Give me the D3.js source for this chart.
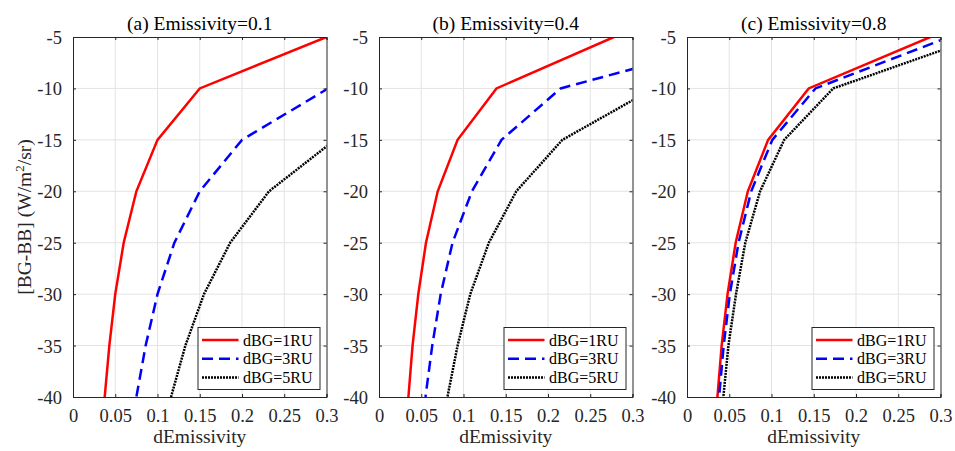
<!DOCTYPE html>
<html><head><meta charset="utf-8">
<script src="https://cdn.jsdelivr.net/npm/d3@7"></script>
<style>
body{margin:0;background:#fff;}
svg{display:block;}
svg text{font-family:"Liberation Serif","Times New Roman",Times,Tinos,"DejaVu Serif",serif !important;}
</style></head>
<body>
<svg id="chart" width="955" height="451"></svg>
<script>
// ---- data ----
const panelTitles = ["(a) Emissivity=0.1", "(b) Emissivity=0.4", "(c) Emissivity=0.8"];
const seriesNames = ["dBG=1RU", "dBG=3RU", "dBG=5RU"];
const yLevels = [-5, -10, -15, -20, -25, -30, -35, -40];
// x (dEmissivity) at each y level, per panel
const a_1RU = [0.30, 0.150, 0.100, 0.075, 0.060, 0.050, 0.043, 0.0375];
const a_3RU = [0.60, 0.302, 0.200, 0.150, 0.120, 0.100, 0.086, 0.075];
const a_5RU = [0.93, 0.465, 0.310, 0.232, 0.186, 0.155, 0.133, 0.116];
const b_1RU = [0.278, 0.139, 0.093, 0.0695, 0.0556, 0.0465, 0.0397, 0.0348];
const b_3RU = [0.44, 0.215, 0.145, 0.110, 0.087, 0.073, 0.063, 0.055];
const b_5RU = [0.65, 0.325, 0.217, 0.1625, 0.130, 0.108, 0.093, 0.081];
const c_1RU = [0.288, 0.144, 0.096, 0.072, 0.0576, 0.048, 0.041, 0.036];
const c_3RU = [0.31, 0.152, 0.101, 0.076, 0.061, 0.0507, 0.0434, 0.038];
const c_5RU = [0.346, 0.173, 0.115, 0.0865, 0.069, 0.058, 0.049, 0.043];
const xTicks = [0, 0.05, 0.1, 0.15, 0.2, 0.25, 0.3];
const xTickLabels = ["0", "0.05", "0.1", "0.15", "0.2", "0.25", "0.3"];
const yTicks = [-5, -10, -15, -20, -25, -30, -35, -40];
const yTickLabels = ["-5", "-10", "-15", "-20", "-25", "-30", "-35", "-40"];
const xLabel = "dEmissivity";

const panels = [[a_1RU, a_3RU, a_5RU], [b_1RU, b_3RU, b_5RU], [c_1RU, c_3RU, c_5RU]];
const colors = ["#ff0000", "#0000ff", "#000000"];
const dashes = [null, "11,6", "2,1"];

const svg = d3.select("#chart");
const lefts = [73, 379, 687];
const pw = 253.5, plotTop = 37, plotBottom = 397;
const axisColor = "#262626";

panels.forEach((series, pi) => {
  const x = d3.scaleLinear().domain([0, 0.3]).range([lefts[pi], lefts[pi] + pw]);
  const y = d3.scaleLinear().domain([-40, -5]).range([plotBottom, plotTop]);
  const g = svg.append("g");
  const clipId = "clip" + pi;
  svg.append("clipPath").attr("id", clipId).append("rect")
    .attr("x", x(0)).attr("y", y(-5)).attr("width", x(0.3) - x(0)).attr("height", y(-40) - y(-5));

  // grid
  g.append("g").selectAll("line").data(xTicks.slice(1, -1)).join("line")
    .attr("x1", d => x(d)).attr("x2", d => x(d)).attr("y1", plotTop).attr("y2", plotBottom)
    .attr("stroke", "#e3e3e3").attr("stroke-width", 1);
  g.append("g").selectAll("line").data(yTicks.slice(1, -1)).join("line")
    .attr("y1", d => y(d)).attr("y2", d => y(d)).attr("x1", x(0)).attr("x2", x(0.3))
    .attr("stroke", "#e3e3e3").attr("stroke-width", 1);

  // lines
  const lineGen = d3.line().x(d => x(d[0])).y(d => y(d[1]));
  series.forEach((vals, si) => {
    const pts = vals.map((v, i) => [v, yLevels[i]]);
    g.append("path").attr("d", lineGen(pts)).attr("clip-path", `url(#${clipId})`)
      .attr("fill", "none").attr("stroke", colors[si]).attr("stroke-width", 2.5)
      .attr("stroke-dasharray", dashes[si]);
  });

  // axes (MATLAB-like, ticks inward)
  const xAx = d3.axisBottom(x).tickValues(xTicks).tickSize(-3).tickPadding(14)
    .tickFormat((d, i) => xTickLabels[i]);
  const gx = g.append("g").attr("transform", `translate(0,${plotBottom})`).call(xAx);
  const yAx = d3.axisLeft(y).tickValues(yTicks).tickSize(-3).tickPadding(11)
    .tickFormat((d, i) => yTickLabels[i]);
  const gy = g.append("g").attr("transform", `translate(${x(0)},0)`).call(yAx);
  const xTop = d3.axisTop(x).tickValues(xTicks).tickSize(-3).tickFormat("");
  const gxt = g.append("g").attr("transform", `translate(0,${plotTop})`).call(xTop);
  const yRight = d3.axisRight(y).tickValues(yTicks).tickSize(-3).tickFormat("");
  const gyr = g.append("g").attr("transform", `translate(${x(0.3)},0)`).call(yRight);
  [gx, gy, gxt, gyr].forEach(a => {
    a.select(".domain").attr("stroke", axisColor).attr("stroke-width", 1);
    a.selectAll(".tick line").attr("stroke", axisColor);
    a.selectAll("text").attr("fill", axisColor).attr("font-size", 18.5);
  });
  gx.selectAll("text").attr("dy", "0.71em").attr("y", 12);
  gy.selectAll("text").attr("dy", "0.35em");

  // title
  g.append("text").attr("x", (x(0) + x(0.3)) / 2).attr("y", 30)
    .attr("text-anchor", "middle").attr("font-size", 19.5).attr("fill", "#000")
    .text(panelTitles[pi]);
  // x label
  g.append("text").attr("x", (x(0) + x(0.3)) / 2).attr("y", 443)
    .attr("text-anchor", "middle").attr("font-size", 19.5).attr("fill", axisColor)
    .text(xLabel);

  // legend
  const lw = 122, lh = 62;
  const lx = x(0.3) - 6.5 - lw, ly = plotBottom - 7.5 - lh;
  const lg = g.append("g").attr("transform", `translate(${lx},${ly})`);
  lg.append("rect").attr("width", lw).attr("height", lh).attr("fill", "#fff")
    .attr("stroke", axisColor).attr("stroke-width", 1);
  seriesNames.forEach((name, si) => {
    const cy = 12.5 + si * 18.8;
    lg.append("line").attr("x1", 4).attr("x2", 40.5).attr("y1", cy).attr("y2", cy)
      .attr("stroke", colors[si]).attr("stroke-width", 2.5).attr("stroke-dasharray", dashes[si]);
    lg.append("text").attr("x", 45).attr("y", cy).attr("dy", "0.35em")
      .attr("font-size", 16).attr("fill", "#000").text(name);
  });
});

// y label
const yl = svg.append("text").attr("transform", "translate(31,217) rotate(-90)")
  .attr("text-anchor", "middle").attr("font-size", 19.5).attr("fill", axisColor);
yl.append("tspan").text("[BG-BB] (W/m");
yl.append("tspan").attr("dy", -7).attr("font-size", 13).text("2");
yl.append("tspan").attr("dy", 7).text("/sr)");
</script>
</body></html>
